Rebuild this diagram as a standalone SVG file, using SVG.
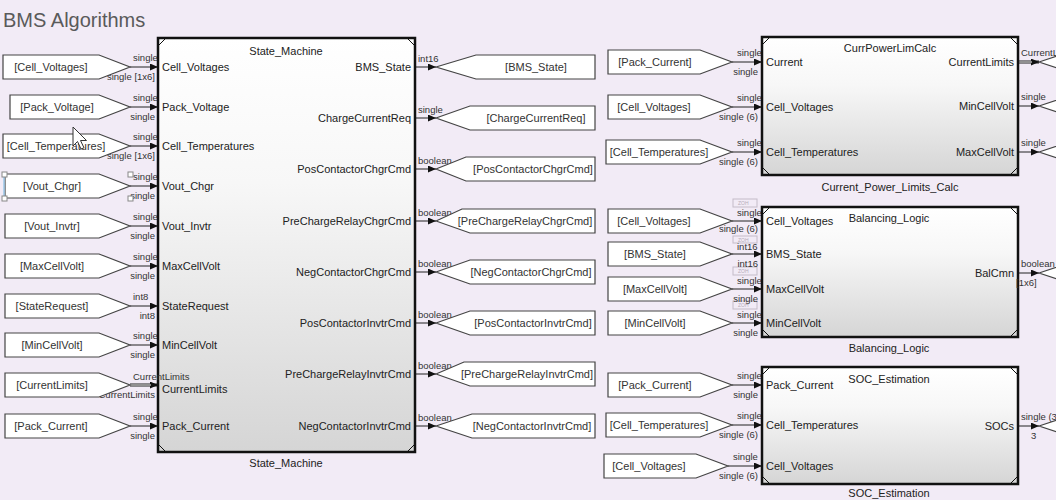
<svg xmlns="http://www.w3.org/2000/svg" width="1056" height="500" viewBox="0 0 1056 500">
<defs>
<linearGradient id="shade" x1="0" y1="0" x2="0" y2="1">
<stop offset="0" stop-color="#ffffff"/>
<stop offset="0.35" stop-color="#f7f7f7"/>
<stop offset="1" stop-color="#d5d5d5"/>
</linearGradient>
<marker id="ah" markerWidth="9" markerHeight="7" refX="8" refY="3.5" orient="auto" markerUnits="userSpaceOnUse">
<path d="M0,0 L8,3.5 L0,7 z" fill="#111"/>
</marker>
</defs>
<style>
text{font-family:"Liberation Sans",Arial,sans-serif}
.title{font-size:20px;fill:#5a5a5a}
.blk{fill:url(#shade);stroke:#111;stroke-width:2.5}
.cm{stroke:#111;stroke-width:1;fill:none}
.tag{fill:#fff;stroke:#444;stroke-width:1.2}
.tt{font-size:11px;fill:#333;text-anchor:middle}
.pin{font-size:11px;fill:#222}
.pout{font-size:11px;fill:#222;text-anchor:end}
.bt{font-size:11px;fill:#222;text-anchor:middle}
.w{stroke:#222;stroke-width:1;fill:none;marker-end:url(#ah)}
.bus{stroke:#222;stroke-width:3;fill:none;marker-end:url(#ah)}
.busin{stroke:#fff;stroke-width:1;fill:none}
.s{font-size:9.5px;fill:#333}
.se{font-size:9.5px;fill:#333;text-anchor:end}
.zoh{fill:none;stroke:#c4bcc8;stroke-width:1}
.zt{font-size:5px;fill:#b5adb9}
.hd{fill:#fff;stroke:#888;stroke-width:1}
</style>

<rect x="0" y="0" width="1056" height="500" fill="#f2ebf6"/>
<text class="title" x="3" y="27">BMS Algorithms</text>

<!-- signal lines and their labels -->
<g id="connectors">
<!-- into State_Machine -->
<path class="w" d="M130,67 H158"/>
<path class="w" d="M130,107 H158"/>
<path class="w" d="M130,146 H158"/>
<path class="w" d="M130,186 H158"/>
<path class="w" d="M130,226 H158"/>
<path class="w" d="M130,266 H158"/>
<path class="w" d="M130,306 H158"/>
<path class="w" d="M130,345 H158"/>
<path class="bus" d="M130,385 H158"/>
<path class="busin" d="M130,385 H151"/>
<path class="w" d="M130,426 H158"/>
<text class="s" x="133" y="61">single</text><text class="se" x="155" y="80">single [1x6]</text>
<text class="s" x="133" y="101">single</text><text class="se" x="155" y="120">single</text>
<text class="s" x="133" y="140">single</text><text class="se" x="155" y="159">single [1x6]</text>
<text class="s" x="133" y="180">single</text><text class="se" x="155" y="199">single</text>
<text class="s" x="133" y="220">single</text><text class="se" x="155" y="239">single</text>
<text class="s" x="133" y="260">single</text><text class="se" x="155" y="279">single</text>
<text class="s" x="133" y="300">int8</text><text class="se" x="155" y="319">int8</text>
<text class="s" x="133" y="339">single</text><text class="se" x="155" y="358">single</text>
<text class="se" x="155" y="398">CurrentLimits</text>
<text class="s" x="133" y="420">single</text><text class="se" x="155" y="439">single</text>

<!-- out of State_Machine -->
<path class="w" d="M415,67 H436"/>
<path class="w" d="M415,118 H436"/>
<path class="w" d="M415,169 H436"/>
<path class="w" d="M415,221 H436"/>
<path class="w" d="M415,272 H436"/>
<path class="w" d="M415,323 H436"/>
<path class="w" d="M415,374 H436"/>
<path class="w" d="M415,426 H436"/>
<text class="s" x="418" y="62">int16</text>
<text class="s" x="418" y="113">single</text>
<text class="s" x="418" y="164">boolean</text>
<text class="s" x="418" y="216">boolean</text>
<text class="s" x="418" y="267">boolean</text>
<text class="s" x="418" y="318">boolean</text>
<text class="s" x="418" y="369">boolean</text>
<text class="s" x="418" y="421">boolean</text>

<!-- into CurrPowerLimCalc -->
<path class="w" d="M732,62 H762"/>
<path class="w" d="M732,107 H762"/>
<path class="w" d="M732,152 H762"/>
<text class="s" x="737" y="56">single</text><text class="se" x="758" y="75">single</text>
<text class="s" x="737" y="101">single</text><text class="se" x="758" y="120">single (6)</text>
<text class="s" x="737" y="146">single</text><text class="se" x="758" y="165">single (6)</text>

<!-- out of CurrPowerLimCalc -->
<path class="bus" d="M1018,62 H1039"/>
<path class="busin" d="M1018,62 H1032"/>
<path class="w" d="M1018,106 H1039"/>
<path class="w" d="M1018,152 H1039"/>

<!-- into Balancing_Logic (sample-time markers sit above each line) -->
<path class="w" d="M732,221 H762"/>
<path class="w" d="M732,254 H762"/>
<path class="w" d="M732,289 H762"/>
<path class="w" d="M732,323 H762"/>
<rect class="zoh" x="733" y="199" width="24" height="8"/><text class="zt" x="738" y="205">ZOH</text>
<rect class="zoh" x="733" y="236" width="24" height="7"/><text class="zt" x="738" y="241.5">ZOH</text>
<rect class="zoh" x="733" y="267" width="24" height="8"/><text class="zt" x="738" y="273">ZOH</text>
<rect class="zoh" x="733" y="301" width="24" height="8"/><text class="zt" x="738" y="307">ZOH</text>
<text class="s" x="737" y="216">single</text><text class="se" x="758" y="232">single (6)</text>
<text class="s" x="737" y="250">int16</text><text class="se" x="758" y="267">int16</text>
<text class="s" x="737" y="284">single</text><text class="se" x="758" y="302">single</text>
<text class="s" x="737" y="318">single</text><text class="se" x="758" y="336">single</text>

<!-- out of Balancing_Logic -->
<path class="w" d="M1018,273 H1039"/>

<!-- into SOC_Estimation -->
<path class="w" d="M732,385 H762"/>
<path class="w" d="M732,425 H762"/>
<path class="w" d="M728,466 H762"/>
<text class="s" x="737" y="379">single</text><text class="se" x="758" y="398">single</text>
<text class="s" x="737" y="419">single</text><text class="se" x="758" y="438">single (6)</text>
<text class="s" x="733" y="460">single</text><text class="se" x="758" y="479">single (6)</text>

<!-- out of SOC_Estimation -->
<path class="w" d="M1018,426 H1039"/>
</g>

<!-- From tags feeding State_Machine -->
<g id="from-cell-voltages"><path class="tag" d="M3,55 H99 L130,67 L99,79 H3 Z"/><text class="tt" x="51" y="71">[Cell_Voltages]</text></g>
<g id="from-pack-voltage"><path class="tag" d="M10,95 H99 L130,107 L99,119 H10 Z"/><text class="tt" x="57" y="111">[Pack_Voltage]</text></g>
<g id="from-cell-temperatures"><path class="tag" d="M3,134 H99 L130,146 L99,158 H3 Z"/><text class="tt" x="56" y="150">[Cell_Temperatures]</text></g>
<g id="from-vout-chgr"><path class="tag" d="M5,174 H99 L130,186 L99,198 H5 Z"/><text class="tt" x="52" y="190">[Vout_Chgr]</text>
<line x1="4" y1="177" x2="4" y2="196" stroke="#9cc8e8" stroke-width="1.5"/>
<rect class="hd" x="2" y="172" width="5" height="5"/><rect class="hd" x="2" y="196" width="5" height="5"/>
<rect class="hd" x="128" y="172" width="5" height="5"/><rect class="hd" x="128" y="196" width="5" height="5"/></g>
<g id="from-vout-invtr"><path class="tag" d="M5,214 H99 L130,226 L99,238 H5 Z"/><text class="tt" x="52" y="230">[Vout_Invtr]</text></g>
<g id="from-maxcellvolt"><path class="tag" d="M5,254 H99 L130,266 L99,278 H5 Z"/><text class="tt" x="52" y="270">[MaxCellVolt]</text></g>
<g id="from-staterequest"><path class="tag" d="M5,294 H99 L130,306 L99,318 H5 Z"/><text class="tt" x="52" y="310">[StateRequest]</text></g>
<g id="from-mincellvolt"><path class="tag" d="M5,333 H99 L130,345 L99,357 H5 Z"/><text class="tt" x="52" y="349">[MinCellVolt]</text></g>
<g id="from-currentlimits"><path class="tag" d="M5,373 H99 L130,385 L99,397 H5 Z"/><text class="tt" x="52" y="389">[CurrentLimits]</text></g>
<g id="from-pack-current"><path class="tag" d="M5,414 H99 L130,426 L99,438 H5 Z"/><text class="tt" x="51" y="430">[Pack_Current]</text></g>

<!-- Goto tags fed by State_Machine -->
<g id="goto-bms-state"><path class="tag" d="M436,67 L476,55 H595 V79 H476 Z"/><text class="tt" x="536" y="71">[BMS_State]</text></g>
<g id="goto-chargecurrentreq"><path class="tag" d="M436,118 L470,106 H595 V130 H470 Z"/><text class="tt" x="536" y="122">[ChargeCurrentReq]</text></g>
<g id="goto-poscontactorchgrcmd"><path class="tag" d="M436,169 L466,157 H595 V181 H466 Z"/><text class="tt" x="533" y="173">[PosContactorChgrCmd]</text></g>
<g id="goto-prechargerelaychgrcmd"><path class="tag" d="M436,221 L462,209 H595 V233 H470 Z"/><text class="tt" x="525" y="225">[PreChargeRelayChgrCmd]</text></g>
<g id="goto-negcontactorchgrcmd"><path class="tag" d="M436,272 L470,260 H595 V284 H470 Z"/><text class="tt" x="531" y="276">[NegContactorChgrCmd]</text></g>
<g id="goto-poscontactorinvtrcmd"><path class="tag" d="M436,323 L470,311 H595 V335 H470 Z"/><text class="tt" x="533" y="327">[PosContactorInvtrCmd]</text></g>
<g id="goto-prechargerelayinvtrcmd"><path class="tag" d="M436,374 L464,362 H595 V386 H470 Z"/><text class="tt" x="527" y="378">[PreChargeRelayInvtrCmd]</text></g>
<g id="goto-negcontactorinvtrcmd"><path class="tag" d="M436,426 L472,414 H595 V438 H472 Z"/><text class="tt" x="532" y="430">[NegContactorInvtrCmd]</text></g>

<!-- From tags on the right column -->
<g id="from-pack-current-2"><path class="tag" d="M608,50 H700 L732,62 L700,74 H608 Z"/><text class="tt" x="655" y="66">[Pack_Current]</text></g>
<g id="from-cell-voltages-2"><path class="tag" d="M608,95 H700 L732,107 L700,119 H608 Z"/><text class="tt" x="654" y="111">[Cell_Voltages]</text></g>
<g id="from-cell-temperatures-2"><path class="tag" d="M606,140 H700 L732,152 L700,164 H606 Z"/><text class="tt" x="659" y="156">[Cell_Temperatures]</text></g>
<g id="from-cell-voltages-3"><path class="tag" d="M608,209 H700 L732,221 L700,233 H608 Z"/><text class="tt" x="654" y="225">[Cell_Voltages]</text></g>
<g id="from-bms-state"><path class="tag" d="M608,242 H700 L732,254 L700,266 H608 Z"/><text class="tt" x="655" y="258">[BMS_State]</text></g>
<g id="from-maxcellvolt-2"><path class="tag" d="M608,277 H700 L732,289 L700,301 H608 Z"/><text class="tt" x="655" y="293">[MaxCellVolt]</text></g>
<g id="from-mincellvolt-2"><path class="tag" d="M608,311 H700 L732,323 L700,335 H608 Z"/><text class="tt" x="655" y="327">[MinCellVolt]</text></g>
<g id="from-pack-current-3"><path class="tag" d="M608,373 H700 L732,385 L700,397 H608 Z"/><text class="tt" x="655" y="389">[Pack_Current]</text></g>
<g id="from-cell-temperatures-3"><path class="tag" d="M606,413 H700 L732,425 L700,437 H606 Z"/><text class="tt" x="659" y="429">[Cell_Temperatures]</text></g>
<g id="from-cell-voltages-4"><path class="tag" d="M604,454 H696 L728,466 L696,478 H604 Z"/><text class="tt" x="649" y="470">[Cell_Voltages]</text></g>

<!-- Goto tags at the right edge -->
<g id="goto-currentlimits"><path class="tag" d="M1039,62 L1075,50 H1120 V74 H1075 Z"/></g>
<g id="goto-mincellvolt"><path class="tag" d="M1039,106 L1075,94 H1120 V118 H1075 Z"/></g>
<g id="goto-maxcellvolt"><path class="tag" d="M1039,152 L1075,140 H1120 V164 H1075 Z"/></g>
<g id="goto-balcmn"><path class="tag" d="M1039,273 L1075,261 H1120 V285 H1075 Z"/></g>
<g id="goto-socs"><path class="tag" d="M1039,426 L1075,414 H1120 V438 H1075 Z"/></g>

<!-- State_Machine subsystem -->
<g id="state-machine">
<rect class="blk" x="158" y="38" width="257" height="414"/>
<path class="cm" d="M158,46 L166,38 M407,38 L415,46 M158,444 L166,452 M407,452 L415,444"/>
<text class="bt" x="286" y="55">State_Machine</text>
<text class="pin" x="162" y="71">Cell_Voltages</text>
<text class="pin" x="162" y="111">Pack_Voltage</text>
<text class="pin" x="162" y="150">Cell_Temperatures</text>
<text class="pin" x="162" y="190">Vout_Chgr</text>
<text class="pin" x="162" y="230">Vout_Invtr</text>
<text class="pin" x="162" y="270">MaxCellVolt</text>
<text class="pin" x="162" y="310">StateRequest</text>
<text class="pin" x="162" y="349">MinCellVolt</text>
<text class="pin" x="162" y="393">CurrentLimits</text>
<text class="pin" x="162" y="430">Pack_Current</text>
<text class="pout" x="411" y="71">BMS_State</text>
<text class="pout" x="411" y="122">ChargeCurrentReq</text>
<text class="pout" x="411" y="173">PosContactorChgrCmd</text>
<text class="pout" x="411" y="225">PreChargeRelayChgrCmd</text>
<text class="pout" x="411" y="276">NegContactorChgrCmd</text>
<text class="pout" x="411" y="327">PosContactorInvtrCmd</text>
<text class="pout" x="411" y="378">PreChargeRelayInvtrCmd</text>
<text class="pout" x="411" y="430">NegContactorInvtrCmd</text>
<text class="bt" x="286" y="467">State_Machine</text>
</g>

<!-- Current_Power_Limits_Calc subsystem -->
<g id="current-power-limits-calc">
<rect class="blk" x="762" y="37" width="256" height="138"/>
<path class="cm" d="M762,45 L770,37 M1010,37 L1018,45 M762,167 L770,175 M1010,175 L1018,167"/>
<text class="bt" x="890" y="52">CurrPowerLimCalc</text>
<text class="pin" x="766" y="66">Current</text>
<text class="pin" x="766" y="111">Cell_Voltages</text>
<text class="pin" x="766" y="156">Cell_Temperatures</text>
<text class="pout" x="1014" y="66">CurrentLimits</text>
<text class="pout" x="1014" y="110">MinCellVolt</text>
<text class="pout" x="1014" y="156">MaxCellVolt</text>
<text class="bt" x="890" y="191">Current_Power_Limits_Calc</text>
</g>

<!-- Balancing_Logic subsystem -->
<g id="balancing-logic">
<rect class="blk" x="762" y="207" width="256" height="130"/>
<path class="cm" d="M762,215 L770,207 M1010,207 L1018,215 M762,329 L770,337 M1010,337 L1018,329"/>
<text class="bt" x="889" y="222">Balancing_Logic</text>
<text class="pin" x="766" y="225">Cell_Voltages</text>
<text class="pin" x="766" y="258">BMS_State</text>
<text class="pin" x="766" y="293">MaxCellVolt</text>
<text class="pin" x="766" y="327">MinCellVolt</text>
<text class="pout" x="1014" y="277">BalCmn</text>
<text class="bt" x="889" y="352">Balancing_Logic</text>
</g>

<!-- SOC_Estimation subsystem -->
<g id="soc-estimation">
<rect class="blk" x="762" y="367" width="256" height="117"/>
<path class="cm" d="M762,375 L770,367 M1010,367 L1018,375 M762,476 L770,484 M1010,484 L1018,476"/>
<text class="bt" x="889" y="383">SOC_Estimation</text>
<text class="pin" x="766" y="389">Pack_Current</text>
<text class="pin" x="766" y="429">Cell_Temperatures</text>
<text class="pin" x="766" y="470">Cell_Voltages</text>
<text class="pout" x="1014" y="430">SOCs</text>
<text class="bt" x="889" y="497">SOC_Estimation</text>
</g>

<!-- signal labels drawn over block edges and edge tags -->
<g id="edge-labels">
<text class="s" x="133" y="380">CurrentLimits</text>
<text class="s" x="1021" y="56">CurrentLimits</text>
<text class="s" x="1021" y="100">single</text>
<text class="s" x="1021" y="146">single</text>
<text class="s" x="1021" y="267">boolean</text>
<text class="s" x="1016" y="286">[1x6]</text>
<text class="s" x="1021" y="420">single (3)</text>
<text class="s" x="1031" y="439">3</text>
</g>

<!-- mouse pointer -->
<g id="pointer">
<path d="M73,127 V146 L77.5,141.5 L81,149 L84,147.8 L80.5,140.5 L86.5,140.5 Z" fill="#fff" stroke="#333" stroke-width="1"/>
</g>
</svg>
